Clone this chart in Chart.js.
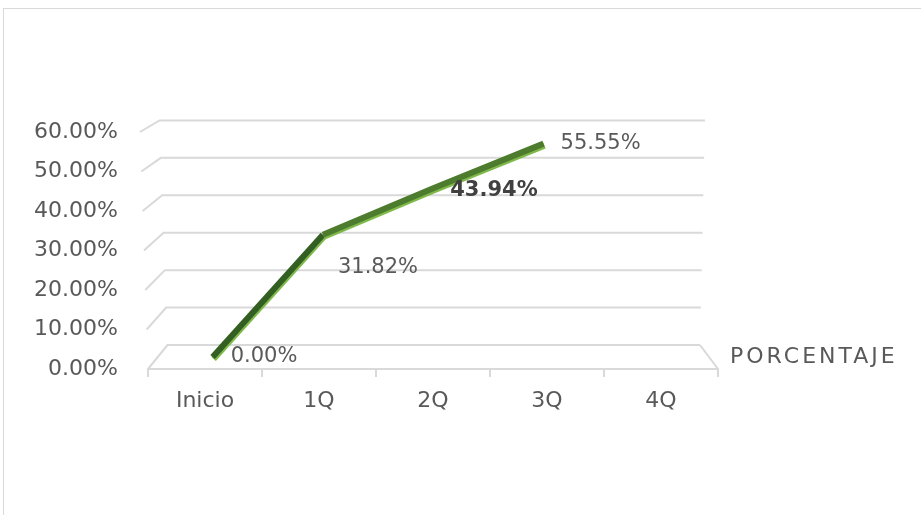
<!DOCTYPE html>
<html>
<head>
<meta charset="utf-8">
<script src="https://cdn.jsdelivr.net/npm/chart.js@4.4.1/dist/chart.umd.min.js"></script>
<style>
  html, body { margin: 0; padding: 0; background: #fff; }
  #wrap { position: relative; width: 921px; height: 515px; overflow: hidden; }
  #frame { position: absolute; left: 3px; top: 8px; width: 940px; height: 540px; border: 1px solid #d9d9d9; }
  #chart { position: absolute; left: 0; top: 0; }
</style>
</head>
<body>
<div id="wrap">
  <div id="frame"></div>
  <canvas id="chart" width="921" height="515"></canvas>
</div>
<script>
const categories = ['Inicio', '1Q', '2Q', '3Q', '4Q'];
const porcentaje = [0, 31.82, 43.94, 55.55, null];
const seriesName = 'PORCENTAJE';
const yTicks = [0, 10, 20, 30, 40, 50, 60];

const FONT = '"DejaVu Sans", sans-serif';
const TEXT = '#595959';
const GRID = '#d9d9d9';

// where each point label sits relative to its point (excel moved a couple by hand)
const labelPlace = [
  { dx: 18, dy: 0 },
  { dx: 15, dy: 33 },
  { dx: 17, dy: 2, bold: true },
  { dx: 17, dy: 0 }
];

const fmt = v => v.toFixed(2) + '%';

// fake 3d floor + back wall gridlines, built off the y scale ticks
const wallPlugin = {
  id: 'wall3d',
  beforeDatasetsDraw(chart) {
    const { ctx, chartArea: a, scales: { y } } = chart;
    ctx.save();
    ctx.strokeStyle = GRID;
    ctx.lineWidth = 2;
    y.ticks.forEach(t => {
      const yf = y.getPixelForValue(t.value);
      const k = (t.value - y.min) / (y.max - y.min);
      const dy = 24 - 12.4 * k;
      const fx = a.left - 8 * k;
      ctx.beginPath();
      ctx.moveTo(fx, yf);
      ctx.lineTo(fx + 19.5, yf - dy);
      ctx.lineTo(a.right - 18 + 5 * k, yf - dy);
      ctx.stroke();
    });
    // right edge of the floor
    ctx.beginPath();
    ctx.moveTo(a.right - 18, a.bottom - 24);
    ctx.lineTo(a.right, a.bottom);
    ctx.stroke();
    ctx.restore();
  }
};

const ribbonPlugin = {
  id: 'ribbon',
  beforeDatasetDraw(chart) {
    const ctx = chart.ctx;
    ctx.save();
    ctx.shadowColor = '#7fb94c';
    ctx.shadowOffsetX = 1;
    ctx.shadowOffsetY = 2;
    ctx.shadowBlur = 0;
  },
  afterDatasetDraw(chart) {
    chart.ctx.restore();
  }
};

const labelPlugin = {
  id: 'pointLabels',
  afterDatasetsDraw(chart) {
    const { ctx, chartArea: a } = chart;
    const meta = chart.getDatasetMeta(0);
    ctx.save();
    ctx.textBaseline = 'middle';
    ctx.textAlign = 'left';
    porcentaje.forEach((v, i) => {
      if (v === null) return;
      const p = meta.data[i];
      const s = labelPlace[i];
      ctx.font = (s.bold ? 'bold ' : '') + '21px ' + FONT;
      ctx.fillStyle = s.bold ? '#404040' : TEXT;
      ctx.fillText(fmt(v), p.x + s.dx, p.y + s.dy);
    });
    // legend entry
    ctx.font = '22px ' + FONT;
    ctx.fillStyle = TEXT;
    ctx.letterSpacing = '3px';
    ctx.fillText(chart.data.datasets[0].label, a.right + 12, chart.scales.yMid.getPixelForValue(0));
    ctx.restore();
  }
};

new Chart(document.getElementById('chart'), {
  type: 'line',
  data: {
    labels: categories,
    datasets: [{
      label: seriesName,
      data: porcentaje.map((v, i) => ({ x: i, y: v })),
      xAxisID: 'xMid',
      yAxisID: 'yMid',
      borderColor: '#4d7c2e',
      borderWidth: 6,
      borderCapStyle: 'butt',
      borderJoinStyle: 'miter',
      segment: {
        borderColor: c => c.p0DataIndex === 0 ? '#345f22' : undefined
      },
      pointRadius: 0,
      tension: 0,
      spanGaps: false
    }]
  },
  options: {
    responsive: false,
    animation: false,
    layout: { padding: { left: 0, top: 132, right: 203, bottom: 86 } },
    plugins: {
      legend: { display: false },
      tooltip: { enabled: false }
    },
    scales: {
      x: {
        type: 'category',
        offset: true,
        grid: { display: true, drawOnChartArea: false, offset: true, color: GRID, lineWidth: 2, tickLength: 8 },
        border: { display: true, color: GRID, width: 2 },
        ticks: { color: TEXT, font: { family: FONT, size: 22 }, padding: 11 },
        afterFit(s) { s.height = 60; }
      },
      y: {
        min: 0,
        max: 60,
        afterBuildTicks(s) { s.ticks = yTicks.map(v => ({ value: v })); },
        grid: { display: false },
        border: { display: false },
        ticks: { color: TEXT, font: { family: FONT, size: 22 }, padding: 22, callback: v => fmt(v) },
        afterFit(s) { s.width = 148; }
      },
      // the line sits halfway into the depth, so it gets its own hidden scales
      xMid: { type: 'linear', display: false, min: -0.586, max: 4.582 },
      yMid: { type: 'linear', display: false, min: -3.12, max: 58.57 }
    }
  },
  plugins: [wallPlugin, ribbonPlugin, labelPlugin]
});
</script>
</body>
</html>
